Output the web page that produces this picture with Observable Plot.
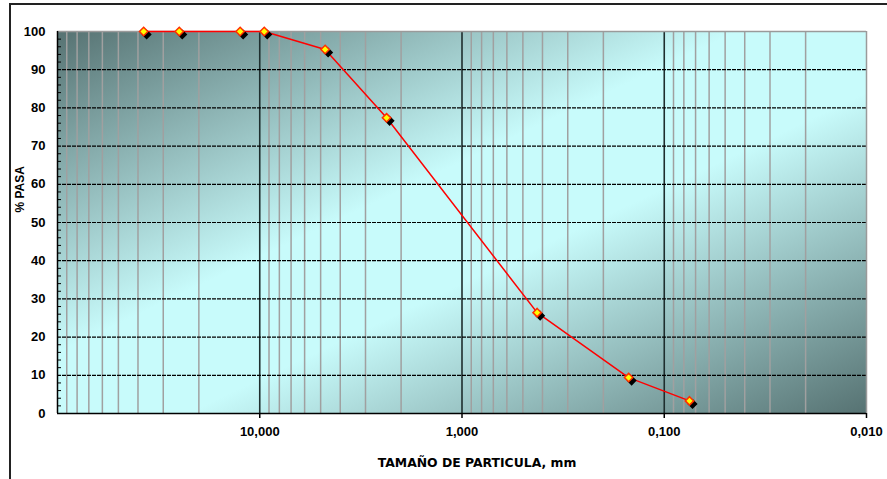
<!DOCTYPE html>
<html>
<head>
<meta charset="utf-8">
<script src="https://cdn.jsdelivr.net/npm/d3@7"></script>
<script src="https://cdn.jsdelivr.net/npm/@observablehq/plot@0.6"></script>
<style>
  html, body { margin: 0; padding: 0; background: #fff; }
  #wrap { position: relative; width: 887px; height: 479px; overflow: hidden; }
  #border { position: absolute; left: 9px; top: 3px; width: 900px; height: 500px;
            border-top: 2px solid #222; border-left: 2px solid #222; pointer-events: none; }
</style>
</head>
<body>
<div id="wrap"><div id="border"></div></div>
<script>
// Particle size (mm) and % passing
const sizes   = [37.5, 25, 12.5, 9.5, 4.75, 2.36, 0.425, 0.15, 0.075];
const passing = [100, 100, 100, 100, 95.3, 77.4, 26.4, 9.4, 3.3];

const yTicks      = [0, 10, 20, 30, 40, 50, 60, 70, 80, 90, 100];
const yMinorTicks = [2, 4, 6, 8, 12, 14, 16, 18, 22, 24, 26, 28, 32, 34, 36, 38, 42, 44, 46, 48,
                     52, 54, 56, 58, 62, 64, 66, 68, 72, 74, 76, 78, 82, 84, 86, 88, 92, 94, 96, 98];
const yGrid       = [10, 20, 30, 40, 50, 60, 70, 80, 90];
const xTicks      = [10, 1, 0.1, 0.01];
const xTickLabels = ["10,000", "1,000", "0,100", "0,010"];
const xMajorGrid  = [10, 1, 0.1];
const xMinorGrid  = [90, 80, 70, 60, 50, 40, 30, 20,
                     9, 8, 7, 6, 5, 4, 3, 2,
                     0.9, 0.8, 0.7, 0.6, 0.5, 0.4, 0.3, 0.2,
                     0.09, 0.08, 0.07, 0.06, 0.05, 0.04, 0.03, 0.02];
const xTitle = "TAMAÑO DE PARTICULA, mm";
const yTitle = "% PASA";

const data = sizes.map((s, i) => ({size: s, pass: passing[i]}));
const xLabelMap = new Map(xTicks.map((v, i) => [v, xTickLabels[i]]));

const chart = Plot.plot({
  width: 887,
  height: 479,
  marginLeft: 57,
  marginRight: 21,
  marginTop: 31,
  marginBottom: 66,
  x: {type: "log", domain: [100, 0.01]},
  y: {domain: [0, 100]},
  style: {fontFamily: "'Liberation Sans', Arial, sans-serif", fontSize: "13px", color: "black", background: "transparent"},
  marks: [
    Plot.frame({fill: "url(#bg)", stroke: "none"}),
    Plot.ruleX(xMinorGrid, {stroke: "#a0a0a0", strokeWidth: 1.5}),
    Plot.ruleX(xMajorGrid, {stroke: "#1e2e2e", strokeWidth: 1.6}),
    Plot.ruleY(yGrid, {stroke: "#000", strokeWidth: 1.2, strokeDasharray: "4,1"}),
    Plot.ruleY([100], {stroke: "#9a9a9a", strokeWidth: 1.5}),
    Plot.ruleX([0.01], {stroke: "#9a9a9a", strokeWidth: 1.5}),
    Plot.ruleX([100], {stroke: "#000", strokeWidth: 1.5}),
    Plot.ruleY([0], {stroke: "#000", strokeWidth: 1.5}),
    Plot.axisY(yMinorTicks, {tickSize: 4, dx: 4, tickFormat: () => "", label: null, stroke: "#000"}),
    Plot.axisY(yTicks, {tickSize: 0, tickPadding: 12, fontWeight: "bold", fontSize: 13, label: null}),
    Plot.axisX(xTicks, {tickSize: 5, tickPadding: 8, tickFormat: d => xLabelMap.get(d), fontWeight: "bold", fontSize: 13, label: null, strokeWidth: 1.5}),
    Plot.line(data, {x: "size", y: "pass", stroke: "#ff0000", strokeWidth: 1.5}),
    Plot.dot(data, {x: "size", y: "pass", symbol: "diamond2", r: 3.6, fill: "#000", stroke: "#000", dx: 3, dy: 3}),
    Plot.dot(data, {x: "size", y: "pass", symbol: "diamond2", r: 3.8, fill: "#ffff00", stroke: "#ff3000", strokeWidth: 1.5}),
    Plot.text([xTitle], {frameAnchor: "bottom", dx: 15, dy: 53, fontFamily: "'DejaVu Sans', sans-serif", fontWeight: "bold", fontSize: 12.4, fill: "#000"}),
    Plot.text([yTitle], {frameAnchor: "left", dx: -37, dy: -10, rotate: -90, fontFamily: "'Liberation Sans', Arial, sans-serif", fontWeight: "bold", fontSize: 12, fill: "#000"})
  ]
});

const svg = d3.select(chart);
svg.insert("defs", ":first-child").html(
  '<linearGradient id="bg" x1="0" y1="0" x2="1" y2="1">' +
  '<stop offset="0" stop-color="#567272"/>' +
  '<stop offset="0.42" stop-color="#c8fbfb"/>' +
  '<stop offset="0.58" stop-color="#c8fbfb"/>' +
  '<stop offset="1" stop-color="#567272"/>' +
  '</linearGradient>'
);
document.getElementById("wrap").insertBefore(chart, document.getElementById("border"));
</script>
</body>
</html>
